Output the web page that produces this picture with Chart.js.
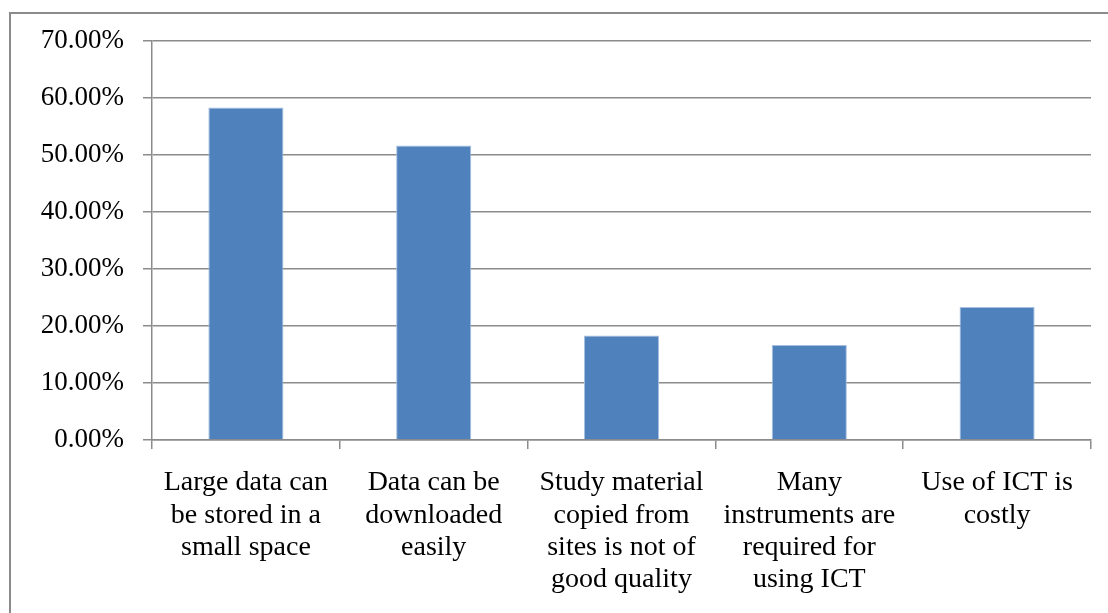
<!DOCTYPE html>
<html>
<head>
<meta charset="utf-8">
<title>Advantages and problems of ICT</title>
<script src="https://cdn.jsdelivr.net/npm/chart.js@4.4.1/dist/chart.umd.min.js"></script>
<style>
  html, body { margin: 0; padding: 0; background: #ffffff; }
  #wrap { position: relative; width: 1108px; height: 613px; overflow: hidden; }
  canvas { display: block; }
</style>
</head>
<body>
<div id="wrap"><canvas id="chart" width="1108" height="613"></canvas></div>
<script>
// Responses (% of respondents) for each statement
const categories = [
  ["Large data can", "be stored in a", "small space"],
  ["Data can be", "downloaded", "easily"],
  ["Study material", "copied from", "sites is not of", "good quality"],
  ["Many", "instruments are", "required for", "using ICT"],
  ["Use of ICT is", "costly"]
];
const percentValues = [58.33, 51.67, 18.33, 16.67, 23.33];
const yTickMax = 70;
const yTickStep = 10;

const axisGray = '#8b8b8b';
const fontFamily = "'Liberation Serif', 'Times New Roman', serif";

// White page with the outer frame of the chart object
const framePlugin = {
  id: 'frame',
  beforeDraw(chart) {
    const ctx = chart.ctx;
    ctx.save();
    ctx.fillStyle = '#ffffff';
    ctx.fillRect(0, 0, chart.width, chart.height);
    ctx.strokeStyle = axisGray;
    ctx.lineWidth = 2;
    ctx.beginPath();
    ctx.moveTo(10, chart.height + 5);
    ctx.lineTo(10, 13);
    ctx.lineTo(chart.width + 5, 13);
    ctx.stroke();
    ctx.restore();
  }
};

new Chart(document.getElementById('chart'), {
  type: 'bar',
  data: {
    labels: categories,
    datasets: [{
      data: percentValues,
      backgroundColor: '#4f81bd',
      borderColor: '#a8c0e0',
      borderWidth: 1,
      categoryPercentage: 1.0,
      barPercentage: 0.4
    }]
  },
  options: {
    responsive: false,
    animation: false,
    devicePixelRatio: 1,
    layout: { padding: { left: 0, top: 41, right: 17, bottom: 0 } },
    plugins: {
      legend: { display: false },
      tooltip: { enabled: false }
    },
    scales: {
      x: {
        afterFit(scale) { scale.height = 173; },
        grid: {
          offset: true,
          drawOnChartArea: false,
          drawTicks: true,
          tickLength: 9,
          color: axisGray,
          lineWidth: 1.5
        },
        border: { display: true, color: axisGray, width: 1.5 },
        ticks: {
          color: '#000000',
          font: { family: fontFamily, size: 28, lineHeight: 1.15 },
          padding: 18,
          maxRotation: 0,
          autoSkip: false
        }
      },
      y: {
        min: 0,
        max: yTickMax,
        afterFit(scale) { scale.width = 152; },
        grid: {
          color: axisGray,
          lineWidth: 1.5,
          drawTicks: true,
          tickLength: 9
        },
        border: { display: true, color: axisGray, width: 1.5 },
        ticks: {
          stepSize: yTickStep,
          color: '#000000',
          font: { family: fontFamily, size: 27 },
          padding: 19,
          callback: (v) => v.toFixed(2) + '%'
        }
      }
    }
  },
  plugins: [framePlugin]
});
</script>
</body>
</html>
